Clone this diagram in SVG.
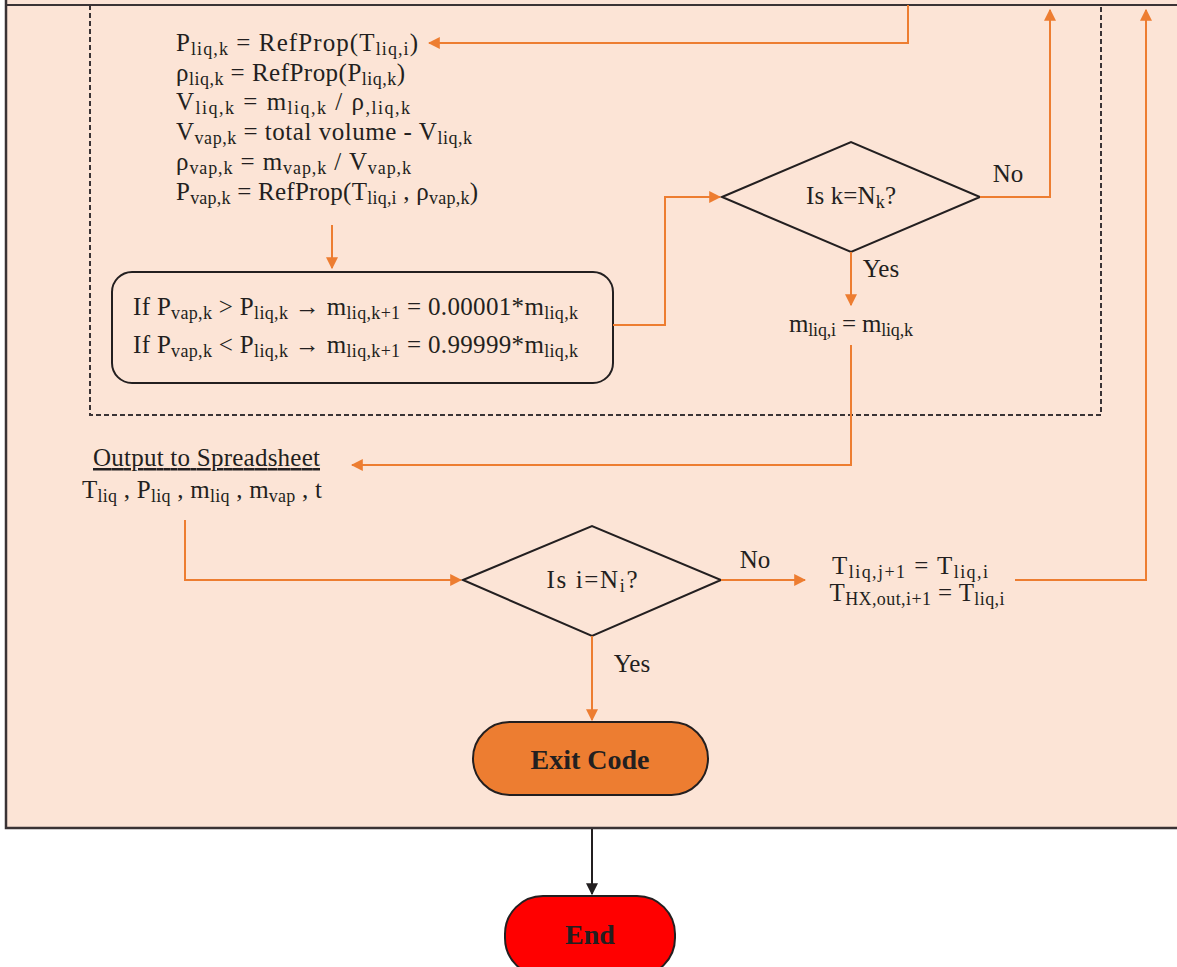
<svg xmlns="http://www.w3.org/2000/svg" width="1177" height="967" viewBox="0 0 1177 967">
<defs>
<style>
.t{font-family:"Liberation Serif","Times New Roman",serif;font-size:25px;fill:#231f20}
.s{font-size:18px}
.b{font-weight:bold;font-size:28px}
.c{fill:none;stroke:#ed7d31;stroke-width:2}
.k{fill:none;stroke:#231f20;stroke-width:2}
</style>
<marker id="ao" viewBox="0 0 10 10" refX="9" refY="5" markerWidth="6" markerHeight="6" orient="auto"><path d="M0,0L10,5L0,10z" fill="#ed7d31"/></marker>
<marker id="ab" viewBox="0 0 10 10" refX="9" refY="5" markerWidth="6" markerHeight="6" orient="auto"><path d="M0,0L10,5L0,10z" fill="#231f20"/></marker>
</defs>
<rect width="1177" height="967" fill="#ffffff"/>
<g id="outer">
<rect x="6" y="-10" width="1180" height="838" fill="#fce4d6" stroke="#3a3335" stroke-width="2.5"/>
<line x1="6" y1="5" x2="1177" y2="5" stroke="#3a3335" stroke-width="2"/>
</g>
<g id="loop-box">
<path d="M90,5V415H1101V5" fill="none" stroke="#3a3335" stroke-width="2" stroke-dasharray="5,3"/>
</g>
<g id="calc">
<text class="t" x="176" y="51" textLength="242" lengthAdjust="spacing">P<tspan class="s" dy="4">liq,k</tspan><tspan dy="-4"> = RefProp(T</tspan><tspan class="s" dy="4">liq,i</tspan><tspan dy="-4">)</tspan></text>
<text class="t" x="176" y="81" textLength="229" lengthAdjust="spacing">ρ<tspan class="s" dy="4">liq,k</tspan><tspan dy="-4"> = RefProp(P</tspan><tspan class="s" dy="4">liq,k</tspan><tspan dy="-4">)</tspan></text>
<text class="t" x="176" y="110" textLength="234" lengthAdjust="spacing">V<tspan class="s" dy="4">liq,k</tspan><tspan dy="-4"> = m</tspan><tspan class="s" dy="4">liq,k</tspan><tspan dy="-4"> / ρ</tspan><tspan class="s" dy="4">,liq,k</tspan></text>
<text class="t" x="176" y="140" textLength="296" lengthAdjust="spacing">V<tspan class="s" dy="4">vap,k</tspan><tspan dy="-4"> = total volume - V</tspan><tspan class="s" dy="4">liq,k</tspan></text>
<text class="t" x="176" y="170" textLength="235" lengthAdjust="spacing">ρ<tspan class="s" dy="4">vap,k</tspan><tspan dy="-4"> = m</tspan><tspan class="s" dy="4">vap,k</tspan><tspan dy="-4"> / V</tspan><tspan class="s" dy="4">vap,k</tspan></text>
<text class="t" x="176" y="200" textLength="302" lengthAdjust="spacing">P<tspan class="s" dy="4">vap,k</tspan><tspan dy="-4"> = RefProp(T</tspan><tspan class="s" dy="4">liq,i</tspan><tspan dy="-4"> , ρ</tspan><tspan class="s" dy="4">vap,k</tspan><tspan dy="-4">)</tspan></text>
</g>
<g id="update">
<rect x="112" y="272" width="501" height="111" rx="20" fill="none" stroke="#231f20" stroke-width="2"/>
<text class="t" x="133" y="315" textLength="445" lengthAdjust="spacing">If P<tspan class="s" dy="4">vap,k</tspan><tspan dy="-4"> &gt; P</tspan><tspan class="s" dy="4">liq,k</tspan><tspan dy="-4">  →  m</tspan><tspan class="s" dy="4">liq,k+1</tspan><tspan dy="-4"> = 0.00001*m</tspan><tspan class="s" dy="4">liq,k</tspan></text>
<text class="t" x="133" y="353" textLength="445" lengthAdjust="spacing">If P<tspan class="s" dy="4">vap,k</tspan><tspan dy="-4"> &lt; P</tspan><tspan class="s" dy="4">liq,k</tspan><tspan dy="-4">  →  m</tspan><tspan class="s" dy="4">liq,k+1</tspan><tspan dy="-4"> = 0.99999*m</tspan><tspan class="s" dy="4">liq,k</tspan></text>
</g>
<g id="dec-k">
<polygon points="722,197 851,142 980,197 851,252" fill="none" stroke="#231f20" stroke-width="2"/>
<text class="t" x="851" y="204" text-anchor="middle" textLength="90" lengthAdjust="spacing">Is k=N<tspan class="s" dy="4">k</tspan><tspan dy="-4">?</tspan></text>
</g>
<g id="assign-m">
<text class="t" x="851" y="332" text-anchor="middle" textLength="124" lengthAdjust="spacing">m<tspan class="s" dy="4">liq,i</tspan><tspan dy="-4"> = m</tspan><tspan class="s" dy="4">liq,k</tspan></text>
</g>
<g id="output">
<text class="t" x="93" y="466" text-decoration="underline" textLength="227" lengthAdjust="spacing">Output to Spreadsheet</text>
<text class="t" x="82" y="498" textLength="240" lengthAdjust="spacing">T<tspan class="s" dy="4">liq</tspan><tspan dy="-4"> , P</tspan><tspan class="s" dy="4">liq</tspan><tspan dy="-4"> , m</tspan><tspan class="s" dy="4">liq</tspan><tspan dy="-4"> , m</tspan><tspan class="s" dy="4">vap</tspan><tspan dy="-4"> , t</tspan></text>
</g>
<g id="dec-i">
<polygon points="463,580 592,526 721,580 592,636" fill="none" stroke="#231f20" stroke-width="2"/>
<text class="t" x="592" y="588" text-anchor="middle" textLength="91" lengthAdjust="spacing">Is i=N<tspan class="s" dy="4">i</tspan><tspan dy="-4">?</tspan></text>
</g>
<g id="assign-t">
<text class="t" x="910" y="574" text-anchor="middle" textLength="156" lengthAdjust="spacing">T<tspan class="s" dy="4">liq,j+1</tspan><tspan dy="-4"> = T</tspan><tspan class="s" dy="4">liq,i</tspan></text>
<text class="t" x="917" y="601" text-anchor="middle" textLength="175" lengthAdjust="spacing">T<tspan class="s" dy="4">HX,out,i+1</tspan><tspan dy="-4"> = T</tspan><tspan class="s" dy="4">liq,i</tspan></text>
</g>
<g id="exit">
<rect x="473" y="722" width="235" height="73" rx="36.5" fill="#ed7d31" stroke="#231f20" stroke-width="2"/>
<text class="t b" x="590" y="769" text-anchor="middle">Exit Code</text>
</g>
<g id="end">
<rect x="505" y="896" width="170" height="80" rx="38" fill="#ff0000" stroke="#231f20" stroke-width="2"/>
<text class="t b" x="590" y="944" text-anchor="middle">End</text>
</g>
<g id="connectors">
<path class="c" d="M908,5V43H429" marker-end="url(#ao)"/>
<path class="c" d="M332,225V268" marker-end="url(#ao)"/>
<path class="c" d="M613,325H665V197H720" marker-end="url(#ao)"/>
<path class="c" d="M980,197H1050V10" marker-end="url(#ao)"/>
<path class="c" d="M851,252V305" marker-end="url(#ao)"/>
<path class="c" d="M851,345V465H352" marker-end="url(#ao)"/>
<path class="c" d="M185,520V580H461" marker-end="url(#ao)"/>
<path class="c" d="M721,580H805" marker-end="url(#ao)"/>
<path class="c" d="M1015,580H1146V10" marker-end="url(#ao)"/>
<path class="c" d="M592,636V720" marker-end="url(#ao)"/>
<path class="k" d="M592,829V894" marker-end="url(#ab)"/>
<text class="t" x="1008" y="182" text-anchor="middle">No</text>
<text class="t" x="881" y="277" text-anchor="middle">Yes</text>
<text class="t" x="755" y="568" text-anchor="middle">No</text>
<text class="t" x="632" y="672" text-anchor="middle">Yes</text>
</g>
</svg>
